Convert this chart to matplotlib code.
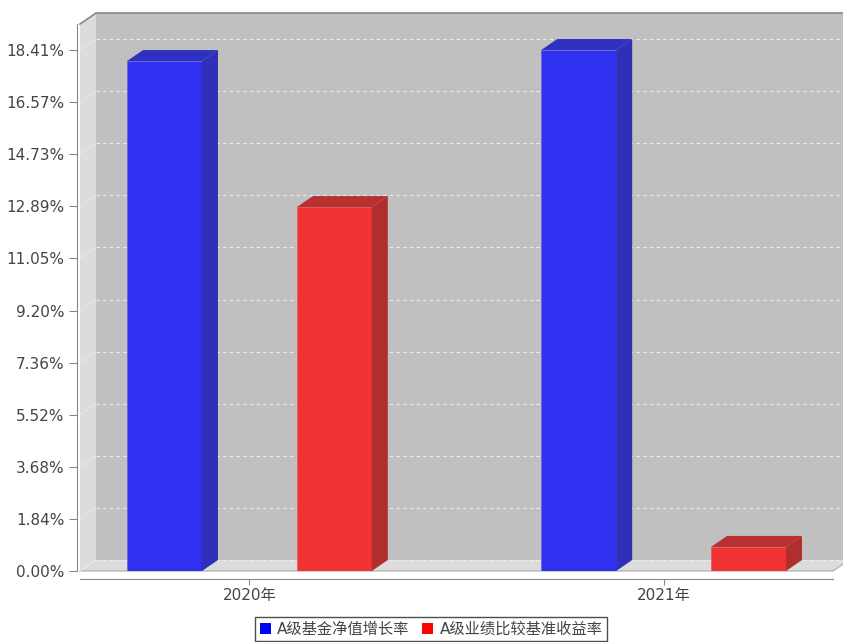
import matplotlib
matplotlib.use("Agg")
import matplotlib.pyplot as plt
from matplotlib.patches import Polygon, Patch
from matplotlib.transforms import IdentityTransform

plt.rcParams['font.family'] = ['DejaVu Sans', 'Noto Sans CJK SC']

categories = ['2020年', '2021年']
nav_growth = [18.02, 18.41]
benchmark = [12.86, 0.85]
tick_values = [0.00, 1.841, 3.682, 5.523, 7.364, 9.205, 11.046, 12.887, 14.728, 16.569, 18.41]
tick_labels = ['0.00%', '1.84%', '3.68%', '5.52%', '7.36%', '9.20%',
               '11.05%', '12.89%', '14.73%', '16.57%', '18.41%']
series_names = ['A级基金净值增长率', 'A级业绩比较基准收益率']

W, H = 843, 642
fig = plt.figure(figsize=(W / 100, H / 100), dpi=100)
ax = fig.add_axes([80 / W, (H - 571) / H, (833 - 80) / W, (571 - 24) / H])
ax.set_facecolor('none')
ax.set_xlim(-0.409, 1.409)
ax.set_ylim(0, 19.33)

# depth of the 3d effect in pixels
DX, DY = 16, 11
ident = IdentityTransform()


def disp(x, y):
    return ax.transData.transform((x, y))


def poly(points, color, z, ec='none', lw=0):
    p = Polygon(points, closed=True, facecolor=color, edgecolor=ec, linewidth=lw,
                transform=ident, zorder=z, clip_on=False)
    ax.add_patch(p)


def line(xs, ys, z, **kw):
    ln = plt.Line2D(xs, ys, transform=ident, zorder=z, clip_on=False, **kw)
    ax.add_line(ln)


x0, x1 = ax.get_xlim()
y0, y1 = ax.get_ylim()
bl = disp(x0, y0)
tl = disp(x0, y1)
br = disp(x1, y0)
tr = disp(x1, y1)

# walls
poly([bl + (DX, DY), br + (DX, DY), tr + (DX, DY), tl + (DX, DY)], '#c0c0c0', 0.1)
poly([bl, tl, tl + (DX, DY), bl + (DX, DY)], '#dcdcdc', 0.1)
poly([bl, br, br + (DX, DY), bl + (DX, DY)], '#dcdcdc', 0.1)
line([tl[0], tl[0] + DX, tr[0] + DX], [tl[1], tl[1] + DY, tr[1] + DY], 0.2,
     color='#888888', lw=1.2)
line([bl[0], br[0], br[0] + DX], [bl[1], br[1], br[1] + DY], 0.2, color='#aaaaaa', lw=0.8)

# grid lines on back wall and left wall
for v in tick_values:
    a = disp(x0, v)
    b = disp(x1, v)
    line([a[0] + DX, b[0] + DX], [a[1] + DY, b[1] + DY], 0.3,
         color='#ececec', lw=0.8, ls=(0, (3, 3)))
    line([a[0], a[0] + DX], [a[1], a[1] + DY], 0.3, color='#f0f0f0', lw=0.6, alpha=0.7)

# bars
bar_w = 0.181
shift = 0.205
styles = [('#3030f0', '#2f2fb8', '#3030c0'), ('#f03232', '#b02e2e', '#b83030')]
for k, values in enumerate([nav_growth, benchmark]):
    front, side, top = styles[k]
    for i, v in enumerate(values):
        xc = i + (shift if k else -shift)
        ax.bar(xc, v, bar_w, color=front, edgecolor='#6a6ad8' if k == 0 else '#e06060',
               linewidth=0.6, zorder=3)
        p0 = disp(xc - bar_w / 2, v)
        p1 = disp(xc + bar_w / 2, v)
        q1 = disp(xc + bar_w / 2, 0)
        poly([p0, p1, p1 + (DX, DY), p0 + (DX, DY)], top, 3)
        poly([q1, p1, p1 + (DX, DY), q1 + (DX, DY)], side, 3)

# axes
ax.set_xticks([0, 1])
ax.set_xticklabels(categories)
ax.set_yticks(tick_values)
ax.set_yticklabels(tick_labels)
for s in ['top', 'right']:
    ax.spines[s].set_visible(False)
ax.spines['bottom'].set_position(('outward', 6))
ax.spines['bottom'].set_color('#888888')
ax.spines['left'].set_position(('outward', 2))
ax.spines['left'].set_color('#888888')
ax.tick_params(axis='y', length=6, color='#888888', labelsize=11, labelcolor='#444444', pad=3)
ax.tick_params(axis='x', length=4, color='#888888', labelsize=11, labelcolor='#444444', pad=2)

handles = [Patch(facecolor='#0000ff', edgecolor='none'), Patch(facecolor='#ff0000', edgecolor='none')]
leg = fig.legend(handles, series_names, loc='upper center', bbox_to_anchor=(431 / W, 1 - 617 / H),
                 ncol=2, fontsize=11, frameon=True, fancybox=False, handlelength=0.75,
                 handleheight=0.75, handletextpad=0.4, columnspacing=0.8, borderpad=0.3,
                 borderaxespad=0, labelcolor='#444444')
leg.get_frame().set_edgecolor('#222222')
leg.get_frame().set_linewidth(1.0)

fig.savefig('out.png', dpi=100)
